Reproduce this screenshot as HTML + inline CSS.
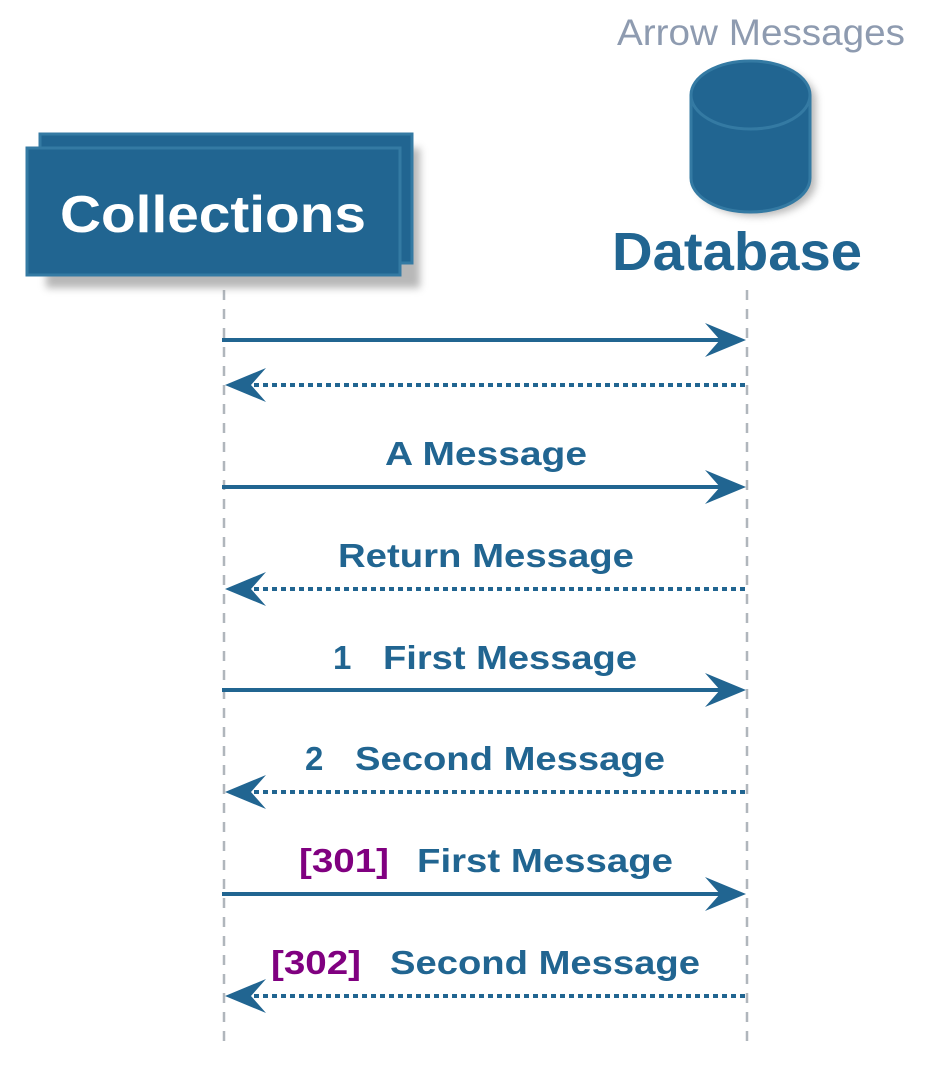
<!DOCTYPE html>
<html><head><meta charset="utf-8"><style>
html,body{margin:0;padding:0;background:#fff;width:942px;height:1088px;overflow:hidden}
text{font-family:"Liberation Sans",Arial,sans-serif}
</style></head><body>
<svg width="942" height="1088" viewBox="0 0 942 1088" xmlns="http://www.w3.org/2000/svg">
<defs>
<filter id="sh" x="-20%" y="-20%" width="150%" height="150%"><feGaussianBlur stdDeviation="4"/></filter>
</defs>
<text x="617" y="45" font-size="37" fill="#8e9bb0" textLength="288" lengthAdjust="spacingAndGlyphs">Arrow Messages</text>
<line x1="224" y1="290" x2="224" y2="1042" stroke="#b0b6bc" stroke-width="2.5" stroke-dasharray="10,9"/>
<line x1="747" y1="290" x2="747" y2="1042" stroke="#b0b6bc" stroke-width="2.5" stroke-dasharray="10,9"/>
<rect x="46" y="148" width="374" height="140" fill="#888" opacity="0.6" filter="url(#sh)"/>
<rect x="40" y="134" width="372" height="129" fill="#216591" stroke="#347aa3" stroke-width="3"/>
<rect x="27" y="148" width="373" height="127" fill="#216591" stroke="#347aa3" stroke-width="3"/>
<text x="60" y="232" font-size="52" font-weight="bold" fill="#fff" textLength="306" lengthAdjust="spacingAndGlyphs">Collections</text>
<path d="M697 100 a59.5 34 0 0 1 119 0 v82 a59.5 34 0 0 1 -119 0 z" fill="#888" opacity="0.6" filter="url(#sh)"/>
<path d="M691 95 a59.5 34 0 0 1 119 0 v83 a59.5 34 0 0 1 -119 0 z" fill="#216591" stroke="#347aa3" stroke-width="3"/>
<path d="M691 95 a59.5 34 0 0 0 119 0" fill="none" stroke="#347aa3" stroke-width="3"/>
<text x="612" y="270" font-size="54" font-weight="bold" fill="#216591" textLength="250" lengthAdjust="spacingAndGlyphs">Database</text>
<g stroke="#216591" stroke-width="4" fill="none">
<line x1="222" y1="340" x2="735" y2="340"/>
<line x1="745" y1="385" x2="240" y2="385" stroke-dasharray="5,4"/>
<line x1="222" y1="487" x2="735" y2="487"/>
<line x1="745" y1="589" x2="240" y2="589" stroke-dasharray="5,4"/>
<line x1="222" y1="690" x2="735" y2="690"/>
<line x1="745" y1="792" x2="240" y2="792" stroke-dasharray="5,4"/>
<line x1="222" y1="894" x2="735" y2="894"/>
<line x1="745" y1="996" x2="240" y2="996" stroke-dasharray="5,4"/>
</g>
<g fill="#216591">
<path d="M746 340 L705 323 L720 340 L705 357 Z"/>
<path d="M225 385 L266 368 L251 385 L266 402 Z"/>
<path d="M746 487 L705 470 L720 487 L705 504 Z"/>
<path d="M225 589 L266 572 L251 589 L266 606 Z"/>
<path d="M746 690 L705 673 L720 690 L705 707 Z"/>
<path d="M225 792 L266 775 L251 792 L266 809 Z"/>
<path d="M746 894 L705 877 L720 894 L705 911 Z"/>
<path d="M225 996 L266 979 L251 996 L266 1013 Z"/>
</g>
<g font-size="33" font-weight="bold" fill="#216591" lengthAdjust="spacingAndGlyphs">
<text x="385" y="465" textLength="202" lengthAdjust="spacingAndGlyphs">A Message</text>
<text x="338" y="567" textLength="296" lengthAdjust="spacingAndGlyphs">Return Message</text>
<text x="333" y="669">1</text>
<text x="383" y="669" textLength="254" lengthAdjust="spacingAndGlyphs">First Message</text>
<text x="305" y="770">2</text>
<text x="355" y="770" textLength="310" lengthAdjust="spacingAndGlyphs">Second Message</text>
<text x="299" y="872" fill="#800080" textLength="90" lengthAdjust="spacingAndGlyphs">[301]</text>
<text x="417" y="872" textLength="256" lengthAdjust="spacingAndGlyphs">First Message</text>
<text x="271" y="974" fill="#800080" textLength="90" lengthAdjust="spacingAndGlyphs">[302]</text>
<text x="390" y="974" textLength="310" lengthAdjust="spacingAndGlyphs">Second Message</text>
</g>
</svg>
</body></html>
